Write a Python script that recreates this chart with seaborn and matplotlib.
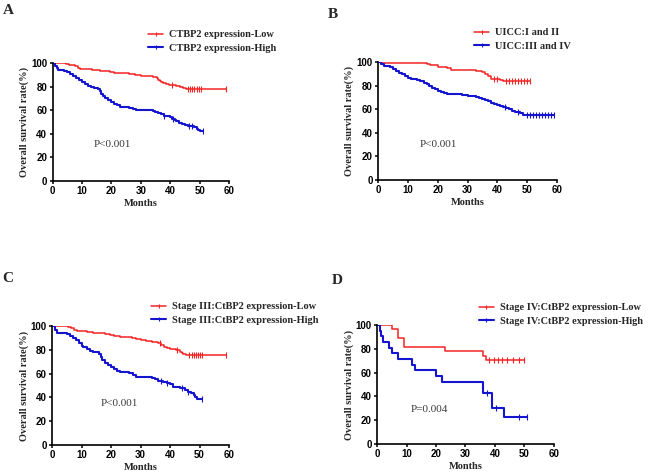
import numpy as np
import pandas as pd
import matplotlib
matplotlib.use("Agg")
import matplotlib.pyplot as plt
from matplotlib.lines import Line2D
import seaborn as sns

# ---------------- data ----------------
# Panel A
a_low_t = [0, 4.5, 5.5, 6.5, 7.5, 8.5, 9.5, 11, 13.5, 16, 18, 19.5, 21, 23, 26, 28, 30, 32, 34,
           35.5, 36, 36.5, 37, 37.5, 38.5, 39.5, 42, 43.5, 44.5, 45.5]
a_low_s = [100, 99.3, 98.6, 97.9, 97.2, 96.0, 95.0, 94.5, 94.0, 93.5, 93.0, 92.3, 91.8, 91.2, 90.7,
           90.0, 89.3, 88.7, 88.0, 87.0, 86.0, 85.0, 84.0, 83.0, 82.0, 81.3, 80.6, 80.0, 79.2, 78.3]
a_low_end = 59
a_low_c = [40.5, 46, 46.8, 47.5, 48.2, 49, 49.7, 50.5, 59]
a_high_t = [0, 1.0, 1.5, 2.0, 4.0, 5.0, 6.0, 7.0, 8.0, 9.0, 10.0, 11.0, 12.0, 13.0, 14.0, 15.5, 16.0,
            16.5, 17.0, 18.0, 19.0, 20.0, 21.0, 22.0, 23.0, 24.5, 26.0, 27.5, 28.5, 34.0, 35.0, 36.0,
            37.0, 38.0, 39.0, 40.0, 40.5, 41.5, 42.0, 43.0, 44.0, 45.0, 46.0, 48.0, 49.0, 49.5, 50.0]
a_high_s = [100, 97.5, 95.5, 94.0, 93.3, 92.0, 90.5, 89.0, 87.5, 85.5, 83.5, 82.0, 80.5, 79.5, 79.0,
            78.0, 76.0, 74.0, 72.0, 70.5, 68.5, 67.0, 65.5, 64.0, 63.0, 62.5, 61.5, 61.0, 60.3, 59.5,
            58.5, 57.5, 56.5, 55.5, 55.0, 54.0, 52.5, 51.5, 50.5, 49.5, 48.5, 47.5, 46.5, 45.5, 44.0,
            43.0, 42.0]
a_high_end = 51
a_high_c = [38, 41, 46.5, 47.5, 51]

# Panel B
b_low_t = [0, 1, 16.5, 17.5, 20, 23, 24.5, 33, 35, 36, 37, 38, 41, 42]
b_low_s = [100, 99.2, 98.4, 97.2, 95.8, 94.6, 93.5, 92.5, 91.5, 90.0, 88.5, 86.0, 85.0, 84.0]
b_low_end = 51
b_low_c = [39, 40, 43, 44, 45, 46, 47, 48, 49, 50, 51]
b_high_t = [0, 1, 2, 4, 5, 6, 7, 8, 9, 10, 11, 13, 14, 15.5, 16.5, 17, 18, 19, 20, 21, 22, 23, 27,
            28, 30, 33, 34, 35, 36, 37, 38, 39, 40, 41, 42, 43, 44, 45, 46, 47.5, 48.5, 49]
b_high_s = [100, 98, 96.5, 95.5, 94.0, 92.5, 91.0, 89.5, 88.0, 86.5, 85.5, 84.5, 83.5, 82.5, 81.0,
            79.5, 78.0, 77.0, 75.8, 74.8, 74.0, 73.3, 72.6, 71.8, 71.0, 70.5, 69.8, 69.0, 68.0, 67.0,
            65.5, 64.5, 63.5, 62.3, 61.5, 60.8, 59.8, 58.5, 57.6, 56.5, 55.5, 54.8]
b_high_end = 59
b_high_c = [42.5, 47, 50, 51, 52, 53, 54, 55, 56, 57, 58, 59]

# Panel C
c_low_t = [0, 5.5, 6.5, 7.5, 8.5, 10, 12, 14, 16, 18, 19.5, 21, 23, 25, 27, 28.5, 30, 32, 34, 36,
           37, 38, 39, 40, 42, 43.5, 44, 44.5, 45.5]
c_low_s = [100, 99, 98, 97, 96, 95.5, 95, 94.5, 94, 93.3, 92.5, 91.7, 91, 90.5, 89.5, 88.7, 88,
           87.3, 86.5, 85.5, 84, 82.5, 81.5, 80.5, 79.5, 78.5, 77.5, 76.5, 75.4]
c_low_end = 59
c_low_c = [36.5, 42.5, 46.5, 47.3, 48, 48.8, 49.5, 50.3, 51, 59]
c_high_t = [0, 1, 1.8, 5, 6, 7, 8, 9, 10, 10.5, 12, 13, 14, 16, 16.5, 17, 18, 19, 20, 21, 22, 23,
            26, 27.5, 28.5, 34, 35, 36, 37.5, 39, 40, 41, 43.5, 45, 46, 47, 48, 48.5, 49]
c_high_s = [100, 97, 94.5, 93, 91.5, 90, 88, 86, 83.5, 82, 80.5, 79, 78, 76.5, 74, 71.5, 69, 67.5,
            65.5, 63.5, 62, 61, 60.3, 59, 57.5, 56.5, 55.5, 54, 53, 52, 51.5, 48.5, 47.5, 46.5, 44.5,
            44, 42, 40, 38.5]
c_high_end = 51
c_high_c = [37, 39, 44, 46, 51]

# Panel D
d_low_t = [0, 5, 7, 9, 23, 36, 37]
d_low_s = [100, 96.3, 88.9, 81.5, 77.8, 74.1, 70.4]
d_low_end = 50
d_low_c = [38, 39.5, 41, 42.5, 44, 46, 48, 50]
d_high_t = [0, 1, 1.5, 2, 4, 5, 7, 12, 13, 20, 22, 36, 39, 43]
d_high_s = [100, 95.2, 90.5, 85.7, 81.0, 76.2, 71.4, 66.7, 61.9, 57.1, 52.4, 42.9, 30.5, 22.9]
d_high_end = 51
d_high_c = [37.3, 40.3, 48, 51]

labels_a = ["CTBP2 expression-Low", "CTBP2 expression-High"]
labels_b = ["UICC:I and II", "UICC:III and IV"]
labels_c = ["Stage III:CtBP2 expression-Low", "Stage III:CtBP2 expression-High"]
labels_d = ["Stage IV:CtBP2 expression-Low", "Stage IV:CtBP2 expression-High"]
pvals = ["P<0.001", "P<0.001", "P<0.001", "P=0.004"]
panel_letters = ["A", "B", "C", "D"]
x_ticks = [0, 10, 20, 30, 40, 50, 60]
y_ticks = [0, 20, 40, 60, 80, 100]

# ---------------- style ----------------
sns.set_style("ticks")
plt.rcParams["font.family"] = ["Liberation Sans", "DejaVu Sans"]

RED = "#f52323"
BLUE = "#1515d0"
SERIF = ["Liberation Serif", "DejaVu Serif"]

W, H = 650, 474
fig = plt.figure(figsize=(6.5, 4.74), dpi=100)


def px_axes(x0, x1, ytop, ybot):
    return fig.add_axes([x0 / W, 1 - ybot / H, (x1 - x0) / W, (ybot - ytop) / H])


def step_value(t, s, q):
    idx = np.searchsorted(np.asarray(t), q, side="right") - 1
    return np.asarray(s)[idx]


def draw_curve(ax, t, s, end, cens, color, lw):
    xs = list(t) + [end]
    ys = list(s) + [s[-1]]
    df = pd.DataFrame({"t": xs, "s": ys})
    sns.lineplot(data=df, x="t", y="s", ax=ax, color=color, linewidth=lw,
                 drawstyle="steps-post", estimator=None, sort=False, legend=False)
    cdf = pd.DataFrame({"t": cens, "s": step_value(t, s, np.asarray(cens))})
    sns.scatterplot(data=cdf, x="t", y="s", ax=ax, marker="|", s=14, color=color,
                    linewidth=0.8, legend=False, zorder=4)


panels = [
    dict(box=(52.5, 229, 63, 181), low=(a_low_t, a_low_s, a_low_end, a_low_c),
         high=(a_high_t, a_high_s, a_high_end, a_high_c), labels=labels_a,
         leg=(148, 41.5), p=(20.2, 31), letter=(8, 11), legsize=7.5),
    dict(box=(378, 557, 62, 180), low=(b_low_t, b_low_s, b_low_end, b_low_c),
         high=(b_high_t, b_high_s, b_high_end, b_high_c), labels=labels_b,
         leg=(474, 39.5), p=(20.1, 30.5), letter=(333, 14), legsize=7.5),
    dict(box=(52, 229, 326, 445), low=(c_low_t, c_low_s, c_low_end, c_low_c),
         high=(c_high_t, c_high_s, c_high_end, c_high_c), labels=labels_c,
         leg=(151, 313.5), p=(23, 35), letter=(8, 279), legsize=7.5),
    dict(box=(377, 554, 325, 444), low=(d_low_t, d_low_s, d_low_end, d_low_c),
         high=(d_high_t, d_high_s, d_high_end, d_high_c), labels=labels_d,
         leg=(479, 314.5), p=(17.6, 28.6), letter=(337, 280), legsize=7.4),
]

for i, pnl in enumerate(panels):
    x0, x1, yt, yb = pnl["box"]
    ax = px_axes(x0, x1, yt, yb)
    draw_curve(ax, *pnl["low"], RED, 1.1)
    draw_curve(ax, *pnl["high"], BLUE, 1.5)
    ax.set_xlim(0, 60)
    ax.set_ylim(0, 100)
    ax.set_xticks(x_ticks)
    ax.set_yticks(y_ticks)
    ax.set_xticklabels([str(v) for v in x_ticks], fontweight="bold", fontsize=7)
    ax.set_yticklabels([str(v) for v in y_ticks], fontweight="bold", fontsize=7)
    ax.tick_params(direction="out", length=2.5, width=1.1, pad=1.3, colors="black")
    for side in ["top", "right"]:
        ax.spines[side].set_visible(False)
    for side in ["left", "bottom"]:
        ax.spines[side].set_linewidth(1.2)
        ax.spines[side].set_color("black")
    ax.set_ylabel("Overall survival rate(%)", fontsize=7.5, fontweight="bold", family=SERIF)
    ax.set_xlabel("Months", fontsize=7.5, fontweight="bold", family=SERIF)
    ax.yaxis.set_label_coords(-0.132, 0.5)
    ax.xaxis.set_label_coords(0.5, -0.15)
    ax.text(pnl["p"][0], pnl["p"][1], pvals[i], ha="center", va="center", fontsize=8,
            family=SERIF, color="#3a3a3a")
    ax.set_facecolor("white")

    handles = [Line2D([0], [0], color=RED, lw=1.1, marker="|", markersize=3.5, mew=0.8),
               Line2D([0], [0], color=BLUE, lw=1.5, marker="|", markersize=3.5, mew=0.8)]
    lx, ly = pnl["leg"]
    fig.legend(handles, pnl["labels"], loc="center left",
               bbox_to_anchor=(lx / W, 1 - ly / H), frameon=False, borderpad=0,
               borderaxespad=0, handlelength=1.45, handletextpad=0.6, labelspacing=0.42,
               numpoints=1, prop=dict(family=SERIF, weight="bold", size=pnl["legsize"]))

    lxp, lyp = pnl["letter"]
    fig.text(lxp / W, 1 - lyp / H, panel_letters[i], ha="center", va="center",
             fontsize=11, fontweight="bold", family=SERIF)

fig.savefig("out.png", dpi=100, facecolor="white")
